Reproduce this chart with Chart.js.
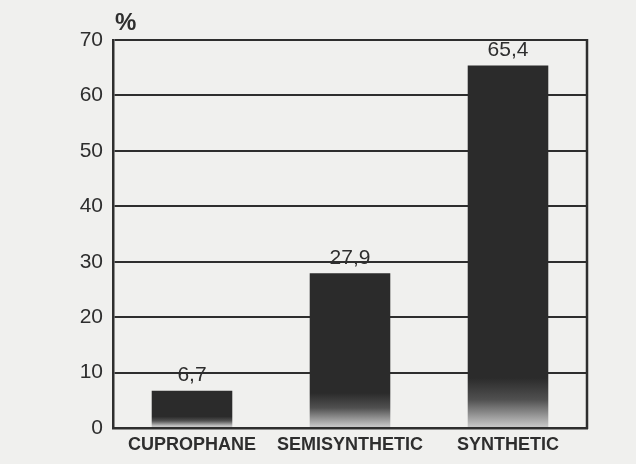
<!DOCTYPE html>
<html><head><meta charset="utf-8">
<script src="https://cdn.jsdelivr.net/npm/chart.js@4/dist/chart.umd.min.js"></script>
<style>html,body{margin:0;padding:0;background:#f0f0ee}canvas{display:block}</style>
</head><body>
<canvas id="c" width="636" height="464"></canvas>
<script>
const categories = ["CUPROPHANE", "SEMISYNTHETIC", "SYNTHETIC"];
const values = [6.7, 27.9, 65.4];
const valueLabels = ["6,7", "27,9", "65,4"];
const unitLabel = "%";

const ink = "#2e2e2e";
const FONT = "'Liberation Sans', Arial, sans-serif";

function barFill(ctx) {
  const ch = ctx.chart;
  const a = ch.chartArea;
  if (!a || ctx.dataIndex === undefined) return ink;
  const y = ch.scales.y;
  const top = y.getPixelForValue(values[ctx.dataIndex]);
  const h = a.bottom - top;
  const fade = Math.min(50, 0.2 * h + 4);
  const g = ch.ctx.createLinearGradient(0, a.bottom - fade, 0, a.bottom - 2);
  g.addColorStop(0, "#2b2b2b");
  g.addColorStop(0.45, "#505050");
  g.addColorStop(1, "#c4c4c4");
  return g;
}

const decor = {
  id: "decor",
  beforeDraw(chart) {
    const c = chart.ctx;
    c.save();
    c.fillStyle = "#f0f0ee";
    c.fillRect(0, 0, chart.width, chart.height);
    c.restore();
  },
  afterDatasetsDraw(chart) {
    const c = chart.ctx;
    const a = chart.chartArea;
    const meta = chart.getDatasetMeta(0);
    c.save();
    c.strokeStyle = ink;
    c.lineWidth = 2.5;
    c.beginPath();
    c.moveTo(a.right, a.top - 1);
    c.lineTo(a.right, a.bottom + 1);
    c.stroke();
    c.fillStyle = ink;
    c.font = "21px " + FONT;
    c.textAlign = "center";
    c.textBaseline = "bottom";
    meta.data.forEach((bar, i) => {
      c.fillText(valueLabels[i], bar.x, bar.y - 5);
    });
    c.font = "bold 24px " + FONT;
    c.textAlign = "left";
    c.textBaseline = "middle";
    c.fillText(unitLabel, 115, 23);
    c.restore();
  }
};

new Chart(document.getElementById("c"), {
  type: "bar",
  data: {
    labels: categories,
    datasets: [{
      data: values,
      backgroundColor: barFill,
      borderWidth: 0,
      barPercentage: 0.51,
      categoryPercentage: 1.0
    }]
  },
  options: {
    responsive: false,
    animation: false,
    devicePixelRatio: 1,
    layout: { padding: { left: 0, right: 49, top: 40, bottom: 0 } },
    plugins: { legend: { display: false }, tooltip: { enabled: false } },
    scales: {
      x: {
        afterFit(s) { s.height = 36; },
        grid: { display: false, drawTicks: false },
        border: { color: ink, width: 2.5 },
        ticks: { color: ink, padding: 6, font: { family: FONT, size: 18, weight: "bold" } }
      },
      y: {
        min: 0, max: 70,
        afterFit(s) { s.width = 113; },
        grid: { color: ink, lineWidth: 2, drawTicks: false },
        border: { color: ink, width: 2.5 },
        ticks: { stepSize: 10, color: ink, padding: 10, font: { family: FONT, size: 21 } }
      }
    }
  },
  plugins: [decor]
});
</script>
</body></html>
